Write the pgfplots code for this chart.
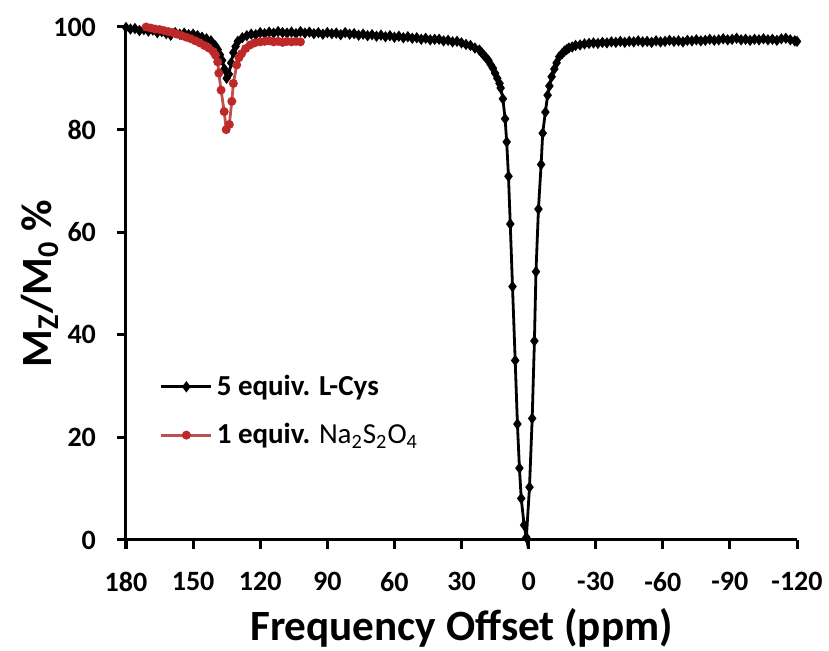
\documentclass[border=0pt]{standalone}
\usepackage{pgfplots}
\usepackage{pgfplotstable}
\pgfplotsset{compat=1.18}
\usepackage{fontspec}
\setmainfont{Carlito}
\definecolor{exred}{RGB}{192,80,77}
\definecolor{exredm}{RGB}{190,40,40}
\pgfplotstableread{
x y
180 99.9
178 99.6
176 99.7
174 99.3
172 99.5
170 99.2
168 99.4
166 98.9
164 99.1
162 98.7
160 98.4
158 98.9
156 98.6
154 98.8
152 98.5
150 98.6
148 98.3
146 98.0
144 97.7
142 97.3
140 96.3
139 95.6
138 94.6
137 93.5
136 91.8
135 90.0
134 90.8
133 93.0
132 95.0
131 96.2
130 97.2
128 97.9
126 98.3
124 98.6
122 98.5
120 98.9
118 98.7
116 99.0
114 98.8
112 99.1
110 98.9
108 98.8
106 99.0
104 98.7
102 99.1
100 98.8
98 99.0
96 98.7
94 98.9
92 98.6
90 98.9
88 98.7
86 98.8
84 98.5
82 98.9
80 98.6
78 98.7
76 98.4
74 98.6
72 98.3
70 98.5
68 98.2
66 98.4
64 98.1
62 98.3
60 98.0
58 98.2
56 97.9
54 98.1
52 97.8
50 97.9
48 97.6
46 97.8
44 97.5
42 97.6
40 97.6
38 97.3
36 97.4
34 97.1
32 97.2
30 96.9
28 96.6
26 96.4
24 95.9
22 95.5
21 95.0
20 94.5
19 94.0
18 93.5
17 92.7
16 92.0
15 91.0
14 90.0
13 89.0
12.5 88.1
11.5 86.0
10.5 82.1
9.8 77.6
9.0 70.9
8.2 61.6
7.2 49.4
6.0 35.0
5.0 22.6
4.1 14.0
3.3 8.1
2.0 2.9
1.0 0.5
-0.4 10.3
-1.6 23.7
-2.6 38.8
-3.3 52.3
-4.4 64.5
-5.6 73.2
-6.3 79.3
-7.5 83.4
-8.5 86.7
-9.3 88.5
-10.3 90.3
-11.5 91.8
-12.5 93.0
-13.7 94.2
-15 94.8
-16 95.3
-17 95.6
-18 95.9
-19.5 96.1
-21 96.4
-23 96.5
-25 96.7
-27 96.8
-29 96.9
-31 96.8
-33 97.0
-35 96.9
-37 97.1
-39 97.0
-41 97.2
-43 97.0
-45 97.2
-47 97.1
-49 97.3
-51 97.1
-53 97.2
-55 97.0
-57 97.3
-59 97.1
-61 97.2
-63 97.4
-65 97.2
-67 97.3
-69 97.1
-71 97.4
-73 97.3
-75 97.5
-77 97.3
-79 97.4
-81 97.6
-83 97.4
-85 97.5
-87 97.7
-89 97.5
-91 97.6
-93 97.8
-95 97.5
-97 97.6
-99 97.4
-101 97.6
-103 97.5
-105 97.7
-107 97.5
-109 97.6
-111 97.4
-113 97.7
-115 97.8
-117 97.5
-119 97.3
-120 97.2
}\cys
\pgfplotstableread{
x y
171 100.0
169 99.8
167 99.6
165 99.5
163 99.3
161 99.1
159 98.9
157 98.6
155 98.3
153 98.0
151 97.7
149 97.3
147 96.9
145 96.4
143 95.9
141 95.2
140 94.5
139 93.2
138.5 91.0
137.5 87.7
136.1 83.5
135.2 80.0
133.8 81.0
132.7 85.5
132 89.0
130.5 92.6
129.5 94.0
128.3 94.8
126.5 95.8
124.5 96.5
122.5 96.9
120 97.1
118 97.2
116 97.3
114 97.1
112 97.2
110 97.0
108 97.2
106 97.1
104 97.2
102 97.1
}\dith
\begin{document}
\begin{tikzpicture}
\begin{axis}[
  at={(0,0)}, anchor=south west,
  scale only axis, width=335.5pt, height=256.5pt,
  xmin=-180, xmax=120, ymin=0, ymax=100,
  axis lines*=left,
  axis line style={line width=1.5pt},
  tick align=outside,
  major tick length=4.5pt,
  every tick/.append style={black, line width=1.5pt},
  xtick={-180,-150,-120,-90,-60,-30,0,30,60,90,120},
  xticklabels={180,150,120,90,60,30,0,-30,-60,-90,-120},
  ytick={0,20,40,60,80,100},
  yticklabels={0,20,40,60,80,100},
  ticklabel style={font=\fontsize{14pt}{16pt}\selectfont\bfseries},
  xticklabel style={yshift=-8pt},
  yticklabel style={xshift=-7pt},
  xlabel={Frequency Offset (ppm)},
  ylabel={M\textsubscript{Z}/M\textsubscript{0} \%},
  label style={font=\fontsize{21.6pt}{24pt}\selectfont\bfseries},
  xlabel style={at={(axis description cs:0.5,0)}, anchor=center, yshift=-44pt},
  ylabel style={at={(axis description cs:-0.1282,0.5)}, anchor=center},
  clip=false,
  legend style={draw=none, fill=none, at={(axis description cs:0.05,0.33)}, anchor=north west,
    font=\fontsize{14.5pt}{16pt}\selectfont\bfseries, row sep=8.5pt, inner sep=0pt},
  legend cell align=left,
  legend image code/.code={\draw[mark repeat=2,mark phase=2] plot coordinates {(0pt,0pt) (12.5pt,0pt) (25pt,0pt)};},
]
\addplot[black, line width=1.4pt, mark=diamond*, mark size=1.7pt, mark options={black}]
  table[x expr=-\thisrow{x}, y=y] {\cys};
\addlegendentry{5 equiv. L-Cys}
\addplot[exred, line width=1.4pt, mark=*, mark size=1.5pt, mark options={exredm}]
  table[x expr=-\thisrow{x}, y=y] {\dith};
\addlegendentry{1 equiv. {\mdseries Na\textsubscript{2}S\textsubscript{2}O\textsubscript{4}}}
\end{axis}
% axis tick marks (decoration of the axis box from (0,0) to (335.5pt,256.5pt))
\foreach \i in {0,...,10} \draw[black, line width=1.5pt] (\i*33.55pt,0pt) -- ++(0,-4.5pt);
\foreach \j in {0,...,5} \draw[black, line width=1.5pt] (0pt,\j*51.3pt) -- ++(-4.5pt,0);
\pgfresetboundingbox
\useasboundingbox (-63pt,-55.5pt) rectangle (351.5pt,270pt);
\end{tikzpicture}
\end{document}
